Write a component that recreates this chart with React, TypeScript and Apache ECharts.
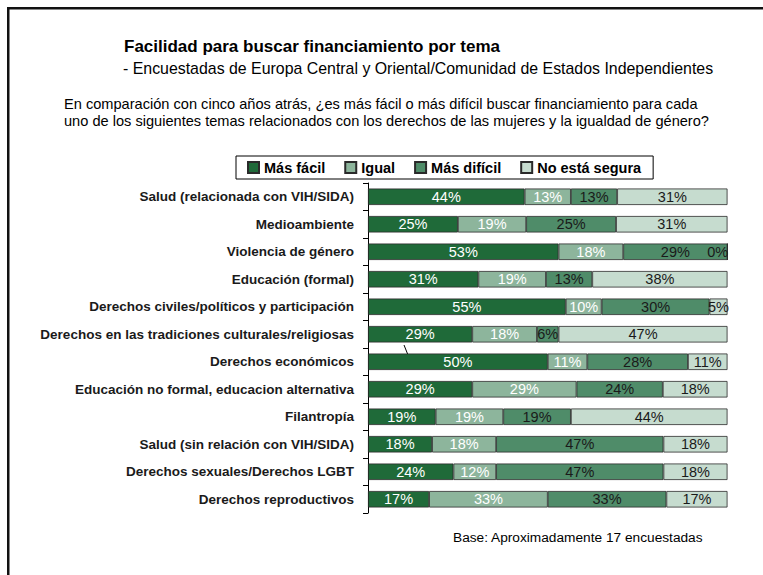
import React, { useEffect, useRef } from "react";
import * as echarts from "echarts";

const categories = [
  "Salud (relacionada con VIH/SIDA)",
  "Medioambiente",
  "Violencia de género",
  "Educación (formal)",
  "Derechos civiles/políticos y participación",
  "Derechos en las tradiciones culturales/religiosas",
  "Derechos económicos",
  "Educación no formal, educacion alternativa",
  "Filantropía",
  "Salud (sin relación con VIH/SIDA)",
  "Derechos sexuales/Derechos LGBT",
  "Derechos reproductivos",
];

const masFacil = [44, 25, 53, 31, 55, 29, 50, 29, 19, 18, 24, 17];
const igual = [13, 19, 18, 19, 10, 18, 11, 29, 19, 18, 12, 33];
const masDificil = [13, 25, 29, 13, 30, 6, 28, 24, 19, 47, 47, 33];
const noSegura = [31, 31, 0, 38, 5, 47, 11, 18, 44, 18, 18, 17];

const seriesNames = ["Más fácil", "Igual", "Más difícil", "No está segura"];
const seriesValues = [masFacil, igual, masDificil, noSegura];
const seriesColors = ["#1f6a39", "#8db59c", "#4f8c69", "#c6dccf"];
const labelColors = ["#ffffff", "#ffffff", "#1a1a1a", "#1a1a1a"];

const titleText = "Facilidad para buscar financiamiento por tema";
const subtitleText =
  "- Encuestadas de Europa Central y Oriental/Comunidad de Estados Independientes";
const questionText =
  "En comparación con cinco años atrás, ¿es más fácil o más difícil buscar financiamiento para cada\nuno de los siguientes temas relacionados con los derechos de las mujeres y la igualdad de género?";
const baseText = "Base: Aproximadamente 17 encuestadas";

const FONT = '"Liberation Sans", Arial, sans-serif';

export default function App() {
  const ref = useRef<HTMLDivElement>(null);

  useEffect(() => {
    if (!ref.current) return;
    const chart = echarts.init(ref.current, undefined, { renderer: "svg" });

    const rowSums = categories.map((_, i) =>
      seriesValues.reduce((s, arr) => s + arr[i], 0)
    );

    const series = seriesValues.map((vals, si) => ({
      name: seriesNames[si],
      type: "bar",
      stack: "total",
      barWidth: "60%",
      itemStyle: {
        color: seriesColors[si],
        borderColor: "#2a2a2a",
        borderWidth: 0.8,
      },
      label: {
        show: true,
        position: "inside",
        color: labelColors[si],
        fontFamily: FONT,
        fontSize: 14.5,
        formatter: (p: any) => `${vals[p.dataIndex]}%`,
      },
      data: vals.map((v, i) => {
        const item: any = { value: (v * 100) / rowSums[i] };
        if (v === 0) {
          item.label = { position: "left", distance: -1, color: labelColors[si] };
        }
        return item;
      }),
    }));

    chart.setOption({
      animation: false,
      backgroundColor: "#ffffff",
      title: [
        {
          text: titleText,
          left: 124,
          top: 38,
          padding: 0,
          textStyle: { fontFamily: FONT, fontSize: 17, fontWeight: "bold", color: "#000" },
        },
        {
          text: subtitleText,
          left: 123,
          top: 60,
          padding: 0,
          textStyle: { fontFamily: FONT, fontSize: 15.9, fontWeight: "normal", color: "#000" },
        },
        {
          text: questionText,
          left: 64,
          top: 95,
          padding: 0,
          textStyle: {
            fontFamily: FONT,
            fontSize: 14.6,
            fontWeight: "normal",
            color: "#000",
            lineHeight: 17,
          },
        },
        {
          text: baseText,
          left: 453,
          top: 530,
          padding: 0,
          textStyle: { fontFamily: FONT, fontSize: 13.7, fontWeight: "normal", color: "#000" },
        },
      ],
      legend: {
        left: 236,
        top: 156,
        padding: [4, 12, 4, 11],
        itemGap: 19,
        itemWidth: 11,
        itemHeight: 11,
        icon: "rect",
        borderColor: "#000",
        borderWidth: 1,
        backgroundColor: "#fff",
        textStyle: { fontFamily: FONT, fontSize: 14.5, fontWeight: "bold", color: "#000" },
        data: seriesNames,
      },
      grid: { left: 368, right: 35.5, top: 183, bottom: 62, containLabel: false },
      xAxis: { type: "value", min: 0, max: 100, show: false },
      yAxis: {
        type: "category",
        inverse: true,
        data: categories,
        axisLine: { show: true, lineStyle: { color: "#000", width: 1 } },
        axisTick: { show: true, length: 5, lineStyle: { color: "#000" } },
        axisLabel: {
          margin: 14,
          fontFamily: FONT,
          fontSize: 13.5,
          fontWeight: "bold",
          color: "#1a1a1a",
        },
      },
      series,
      graphic: [
        { type: "rect", shape: { x: 7, y: 7, width: 756, height: 2.5 }, style: { fill: "#111" } },
        { type: "rect", shape: { x: 7, y: 7, width: 2.5, height: 568 }, style: { fill: "#111" } },
        {
          type: "line",
          shape: { x1: 404, y1: 345, x2: 408, y2: 355 },
          style: { stroke: "#000", lineWidth: 1 },
        },
      ],
    });

    return () => chart.dispose();
  }, []);

  return (
    <div
      ref={ref}
      style={{ position: "fixed", left: 0, top: 0, width: 763, height: 575 }}
    />
  );
}
